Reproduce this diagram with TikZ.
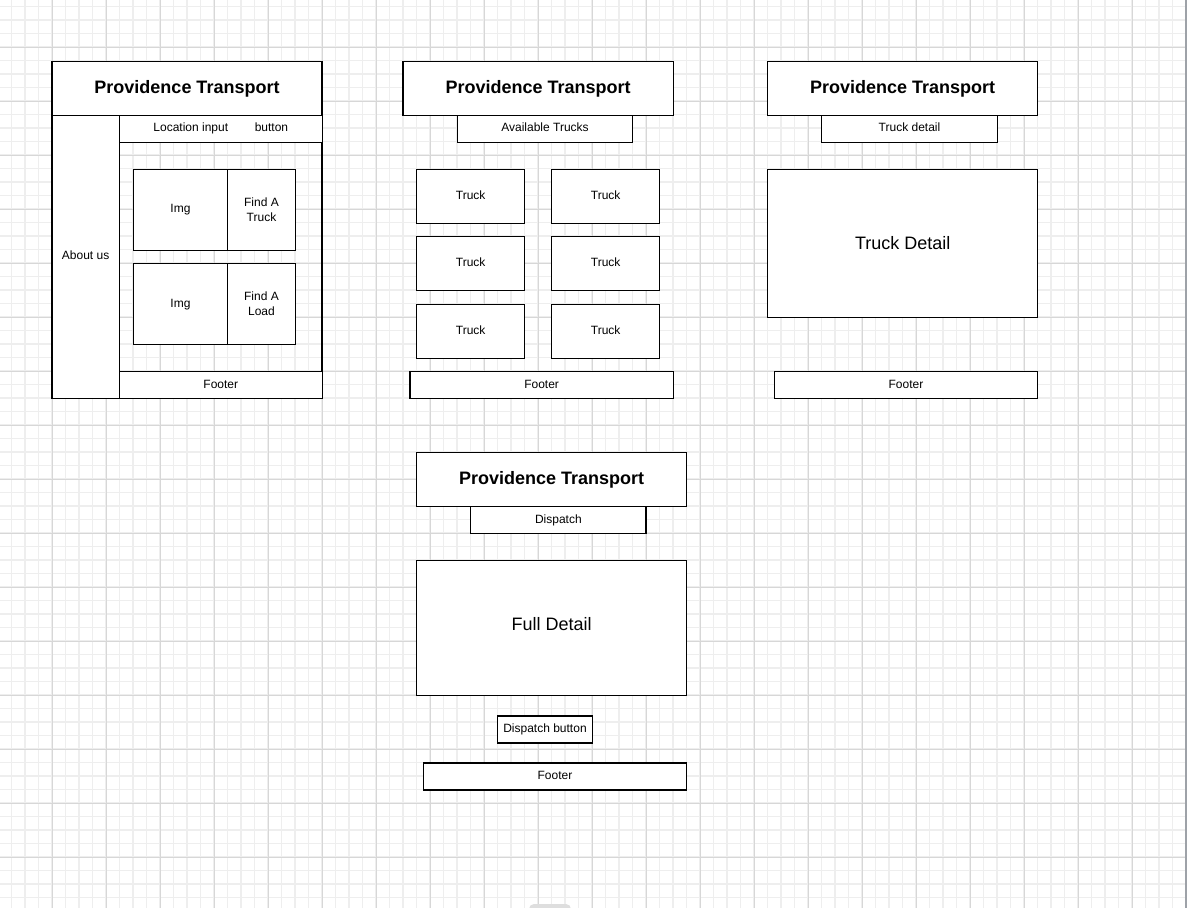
\documentclass[tikz,border=0pt]{standalone}
\usepackage{fontspec}
\setmainfont{Liberation Sans}
\usepackage{tikz}

\definecolor{gridminor}{RGB}{238,238,238}
\definecolor{gridmajor}{RGB}{215,215,215}
\definecolor{edgegray}{RGB}{158,162,168}
\definecolor{tabgray}{RGB}{222,222,222}

\begin{document}
\begin{tikzpicture}[x=1pt, y=-1pt,
    frame/.style={draw=black, line width=1.3pt, fill=white, inner sep=0pt,
        outer sep=0pt, anchor=north west, align=center,
        font=\fontsize{12}{15}\selectfont},
    box/.style={frame, text height=8pt, text depth=2pt},
    titlebox/.style={frame, font=\fontsize{18}{21}\selectfont\bfseries},
    bigbox/.style={frame, font=\fontsize{18}{21}\selectfont},
    minorline/.style={draw=gridminor, line width=1.6pt},
    majorline/.style={draw=gridmajor, line width=0.8pt}]
    \clip (0,0) rectangle (1187,908);
    \fill[white] (0,0) rectangle (1187,908);
    % grid
    \foreach \i in {0,...,87}{
        \draw[minorline] ({11.5+13.5*\i},0) -- ({11.5+13.5*\i},908);
    }
    \foreach \j in {0,...,66}{
        \draw[minorline] (0,{6.5+13.5*\j}) -- (1187,{6.5+13.5*\j});
    }
    \foreach \i in {0,...,21}{
        \draw[majorline] ({52+54*\i},0) -- ({52+54*\i},908);
    }
    \foreach \j in {0,...,15}{
        \draw[majorline] (0,{47+54*\j}) -- (1187,{47+54*\j});
    }
    \draw[edgegray, line width=1.6pt] (1186.2,0) -- (1186.2,908);
    \fill[tabgray, rounded corners=5pt] (529,904) rectangle (571,918);

    % home page
    \draw[line width=1.3pt] (52,61.5) rectangle (322,398.3);
    \node[titlebox, minimum width=270pt, minimum height=53.8pt] (lhead)
        at (52,61.5) {Providence Transport};
    \node[box, minimum width=67.3pt, minimum height=283pt] (labout)
        at (52,115.3) {About us};
    \node[box, minimum width=203pt, minimum height=27pt] (lloc)
        at (119.3,115.3) {Location input\hspace{26.6pt}button};
    \node[box, minimum width=94.4pt, minimum height=81pt] (limga)
        at (133.3,169.3) {Img};
    \node[frame, minimum width=67.6pt, minimum height=81pt] (lfinda)
        at (227.7,169.3) {Find A\\Truck};
    \node[box, minimum width=94.4pt, minimum height=80.6pt] (limgb)
        at (133.3,263.7) {Img};
    \node[frame, minimum width=67.6pt, minimum height=80.6pt] (lfindb)
        at (227.7,263.7) {Find A\\Load};
    \node[box, minimum width=203pt, minimum height=26.6pt] (lfoot)
        at (119.3,371.7) {Footer};

    % available trucks
    \node[titlebox, minimum width=270.3pt, minimum height=53.8pt] (mhead)
        at (403,61.5) {Providence Transport};
    \node[box, minimum width=175.4pt, minimum height=27pt] (mbar)
        at (457.3,115.3) {Available Trucks};
    \foreach \r in {0,1,2}{
        \foreach \c in {0,1}{
            \node[box, minimum width=108pt, minimum height=54pt] (truck\r\c)
                at ({416.7+135*\c},{169.3+67.5*\r}) {Truck};
        }
    }
    \node[box, minimum width=263.3pt, minimum height=26.6pt] (mfoot)
        at (410,371.7) {Footer};

    % truck detail
    \node[titlebox, minimum width=270pt, minimum height=53.8pt] (rhead)
        at (767.7,61.5) {Providence Transport};
    \node[box, minimum width=175.6pt, minimum height=27pt] (rbar)
        at (821.7,115.3) {Truck detail};
    \node[bigbox, minimum width=270pt, minimum height=148.4pt] (rdetail)
        at (767.7,169.3) {Truck Detail};
    \node[box, minimum width=263.4pt, minimum height=26.6pt] (rfoot)
        at (774.3,371.7) {Footer};

    % dispatch
    \node[titlebox, minimum width=270pt, minimum height=54pt] (bhead)
        at (416.7,452.7) {Providence Transport};
    \node[box, minimum width=175.3pt, minimum height=27pt] (bbar)
        at (470.7,506.7) {Dispatch};
    \node[bigbox, text height=13pt, text depth=8pt, minimum width=270pt,
        minimum height=135pt] (bdetail)
        at (416.7,560.7) {Full Detail};
    \node[box, minimum width=94.6pt, minimum height=27pt] (bbutton)
        at (497.7,716) {Dispatch button};
    \node[box, minimum width=263.4pt, minimum height=27pt] (bfoot)
        at (423.3,763) {Footer};
\end{tikzpicture}
\end{document}
